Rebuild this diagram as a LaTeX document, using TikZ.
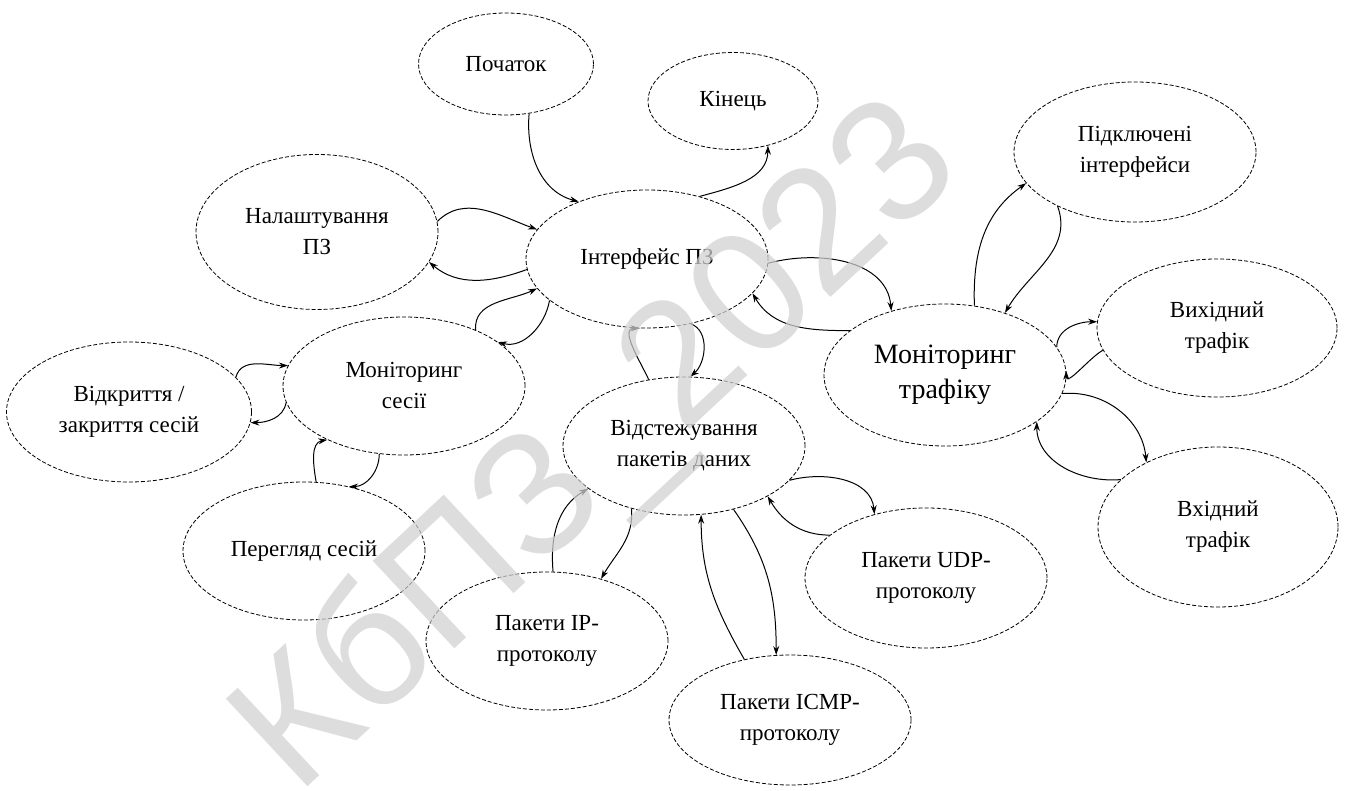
\documentclass[tikz,border=0pt]{standalone}
\usepackage{fontspec}
\setmainfont{Liberation Serif}
\setsansfont{Liberation Sans}
\newfontfamily\ovalfont{Liberation Serif}
\usetikzlibrary{arrows.meta,shapes.geometric}

\tikzset{
	oval/.style={ellipse,draw,line width=0.8pt,dash pattern=on 4pt off 2pt,inner sep=0pt,align=center,minimum width=242pt,minimum height=138pt,font=\ovalfont\fontsize{23}{31}\selectfont},
	link/.style={-{Stealth[length=9pt,width=6pt]},line width=1pt},
}

\begin{document}
\begin{tikzpicture}[x=1pt,y=1pt]

			\useasboundingbox (0,0) rectangle (1347,790);

			\node[oval,minimum width=175pt,minimum height=102pt] (pochatok) at (506,726) {Початок};
			\node[oval,minimum width=170pt,minimum height=97pt] (kinets) at (733,689) {Кінець};
			\node[oval,minimum height=155pt] (nalasht) at (317,558) {Налаштування\\ПЗ};
			\node[oval] (interf) at (647,531) {Інтерфейс ПЗ};
			\node[oval,minimum height=140pt] (pidkl) at (1135,638) {Підключені\\інтерфейси};
			\node[oval,minimum height=142pt,font=\ovalfont\fontsize{28}{35}\selectfont] (montraf) at (945,415) {Моніторинг\\трафіку};
			\node[oval,minimum width=240pt] (vykh) at (1217,462) {Вихідний\\трафік};
			\node[oval,minimum width=240pt,minimum height=160pt] (vkhid) at (1218,263) {Вхідний\\трафік};
			\node[oval] (monses) at (404,404) {Моніторинг\\сесії};
			\node[oval,minimum width=245pt,minimum height=140pt] (vidkr) at (129,378) {Відкриття /\\закриття сесій};
			\node[oval] (perehl) at (304,239) {Перегляд сесій};
			\node[oval] (vidst) at (684,344) {Відстежування\\пакетів даних};
			\node[oval] (ip) at (547,149) {Пакети IP-\\протоколу};
			\node[oval,minimum height=130pt] (icmp) at (790,70) {Пакети ICMP-\\протоколу};
			\node[oval,minimum height=140pt] (udp) at (926,212) {Пакети UDP-\\протоколу};

			\draw[link] (pochatok.-65) to[out=-95,in=165] (interf.140);
			\draw[link] (interf.50) to[out=15,in=-90] (kinets.-52);

			\draw[link] (nalasht.5) to[out=45,in=160] (interf.165);
			\draw[link] (interf.185) to[out=200,in=-40] (nalasht.-15);

			\draw[link] (monses.38) to[out=95,in=205] (interf.195);
			\draw[link] (interf.203) to[out=-100,in=-15] (monses.25);

			\draw[link] (vidkr.18) to[out=75,in=180] (monses.170);
			\draw[link] (monses.188) to[out=-100,in=0] (vidkr.-5);

			\draw[link] (perehl.80) to[out=100,in=190] (monses.215);
			\draw[link] (monses.-110) to[out=-90,in=0] (perehl.55);

			\draw[link] (vidst.118) to[out=115,in=180] (interf.-96);
			\draw[link] (interf.-56) to[out=-20,in=40] (vidst.85);

			\draw[link] (ip.85) to[out=95,in=210] (vidst.204);
			\draw[link] (vidst.230) to[out=-85,in=60] (ip.49);

			\draw[link] (icmp.127) to[out=120,in=-90] (vidst.-76);
			\draw[link] (vidst.-52) to[out=-55,in=90] (icmp.102);

			\draw[link] (vidst.-18) to[out=15,in=95] (udp.129);
			\draw[link] (udp.156) to[out=180,in=-60] (vidst.-31);

			\draw[link] (interf.-2) to[out=15,in=95] (montraf.130);
			\draw[link] (montraf.155) to[out=180,in=-60] (interf.-18);

			\draw[link] (montraf.67) to[out=92,in=215] (pidkl.196);
			\draw[link] (pidkl.215) to[out=-70,in=60] (montraf.46);

			\draw[link] (montraf.14) to[out=90,in=180] (vykh.177);
			\draw[link] (vykh.191) to[out=210,in=-90] (montraf.2);

			\draw[link] (montraf.-9) to[out=5,in=95] (vkhid.138);
			\draw[link] (vkhid.154) to[out=185,in=-90] (montraf.-27);

			\node[text=black!18,text opacity=0.73,rotate=43,font=\sffamily\fontsize{174}{174}\selectfont] (wmark) at (600,340) {КбПЗ\_2023};

		\end{tikzpicture}
\end{document}
